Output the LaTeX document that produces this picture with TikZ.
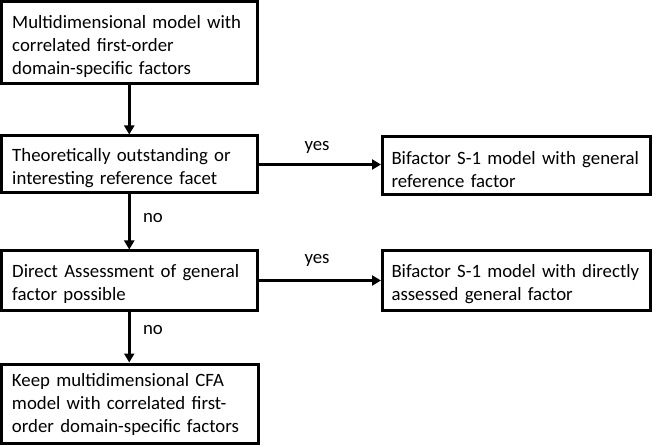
\documentclass[tikz,border=0pt]{standalone}
\usepackage{fontspec}
\setmainfont{Carlito}
\usetikzlibrary{arrows.meta}
\newcommand{\myboxfont}{\fontsize{18.8}{23}\selectfont\hyphenpenalty 10000 \exhyphenpenalty 10000 }
\newcommand{\mystrut}{\rule{0pt}{20pt}}
\begin{document}
\begin{tikzpicture}[x=1pt,y=-1pt,
  txt/.style={font=\myboxfont},
  box/.style={draw, line width=3pt, align=left, inner xsep=9pt, inner ysep=0pt,
    txt, anchor=center},
  lbl/.style={txt, inner sep=0pt},
  arr/.style={line width=2.5pt, -{Triangle[length=9pt,width=10pt]}}]
\useasboundingbox (0,0) rectangle (653,446);
\node[box, minimum width=255.5pt, minimum height=82.5pt, text width=234pt] (b1) at (129.25,42.75)
  {\mystrut Multidimensional model with\\correlated first-order\\domain-specific factors};
\node[box, minimum width=255.5pt, minimum height=57pt, text width=234pt] (b2) at (129.25,164.5)
  {\mystrut Theoretically outstanding or\\interesting reference facet};
\node[box, minimum width=267pt, minimum height=58pt, text width=250pt] (b3) at (516.5,166)
  {\mystrut Bifactor S-1 model with general\\reference factor};
\node[box, minimum width=255.5pt, minimum height=59pt, text width=234pt] (b4) at (129.25,280.5)
  {\mystrut Direct Assessment of general\\factor possible};
\node[box, minimum width=267pt, minimum height=59pt, text width=250pt] (b5) at (516.5,280.5)
  {\mystrut Bifactor S-1 model with directly\\assessed general factor};
\node[box, minimum width=257pt, minimum height=79pt, text width=236pt] (b6) at (130,403.5)
  {\rule{0pt}{16pt}Keep multidimensional CFA\\model with correlated first-\\order domain-specific factors};
\draw[arr] (b1.south) -- (b1.south |- b2.north);
\draw[arr] (b2.south) -- (b4.north);
\draw[arr] (b4.south) -- (b4.south |- b6.north);
\draw[arr] (b2.east) -- (b3.west |- b2.east);
\draw[arr] (b4.east) -- (b5.west);
\node[lbl] (y1) at (317,147) {yes};
\node[lbl] (y2) at (317,260) {yes};
\node[lbl] (n1) at (153,218) {no};
\node[lbl] (n2) at (153,330) {no};
\end{tikzpicture}
\end{document}
